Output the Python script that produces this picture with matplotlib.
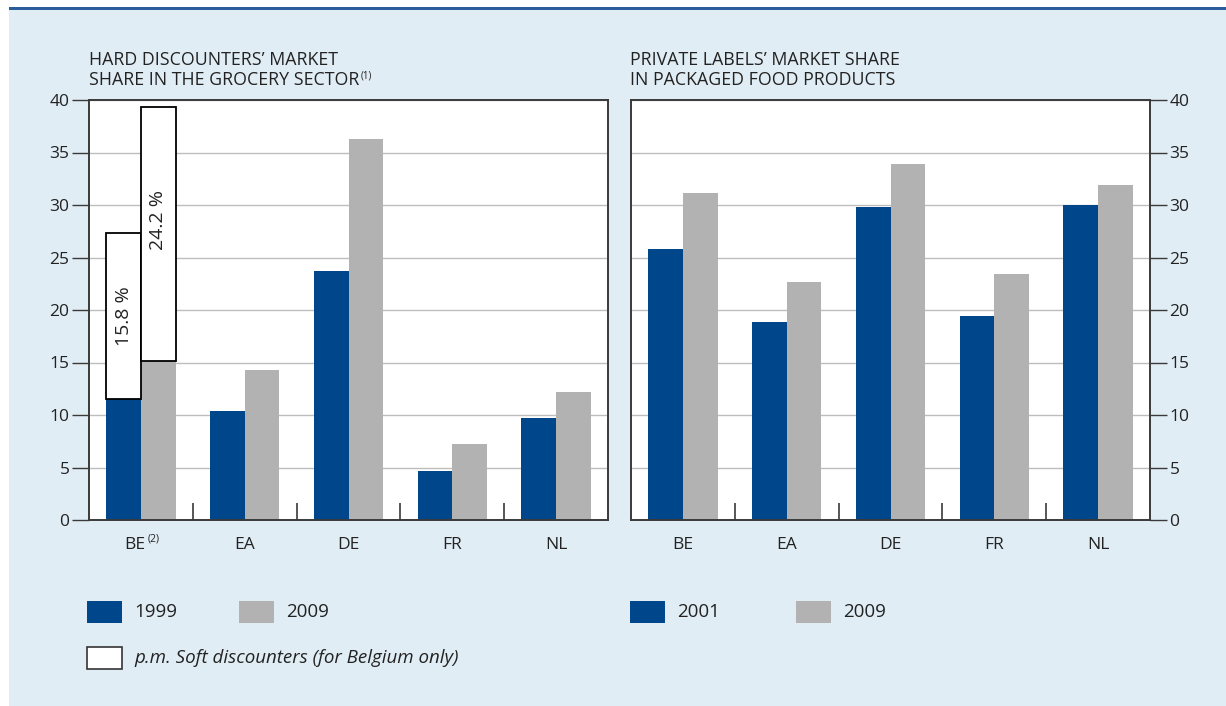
import matplotlib.pyplot as plt
import numpy as np
from matplotlib.patches import Rectangle
from matplotlib.transforms import blended_transform_factory

plt.rcParams["font.family"] = ["Open Sans", "DejaVu Sans"]

# hard discounters (left panel)
hd_countries = ["BE", "EA", "DE", "FR", "NL"]
hd_1999 = [11.5, 10.4, 23.7, 4.7, 9.7]
hd_2009 = [15.1, 14.3, 36.3, 7.2, 12.2]
soft_be = [15.8, 24.2]  # Belgian soft discounters, 1999 and 2009

# private labels (right panel)
pl_countries = ["BE", "EA", "DE", "FR", "NL"]
pl_2001 = [25.8, 18.9, 29.8, 19.4, 30.0]
pl_2009 = [31.1, 22.7, 33.9, 23.4, 31.9]

BLUE = "#00468a"
GREY = "#b2b2b2"
BG = "#e1edf5"
INK = "#222222"
SPINE = "#3a3a3a"
W, H = 1226, 706
FS = 12.5

fig = plt.figure(figsize=(W / 100, H / 100), dpi=100)
fig.patch.set_facecolor("white")
fig.patches.append(Rectangle((9 / W, 0), 1, 1 - 8 / H, transform=fig.transFigure,
                             facecolor=BG, edgecolor="none", zorder=-10))
fig.patches.append(Rectangle((9 / W, 1 - 9.5 / H), 1, 2.5 / H, transform=fig.transFigure,
                             facecolor="#2b5c9c", edgecolor="none", zorder=-9))

ax1 = fig.add_axes([89 / W, 186 / H, 519 / W, 420 / H])
ax2 = fig.add_axes([631 / W, 186 / H, 519 / W, 420 / H])

width = 0.334


def style_axes(ax, right=False):
    ax.set_xlim(0, 5)
    ax.set_ylim(0, 40)
    ax.set_facecolor("white")
    ax.set_yticks(np.arange(0, 41, 5))
    ax.grid(axis="y", color="#bdbdbd", linewidth=1.0, zorder=0)
    ax.set_axisbelow(True)
    for sp in ax.spines.values():
        sp.set_color(SPINE)
        sp.set_linewidth(1.4)
    ax.set_xticks([1, 2, 3, 4])
    ax.tick_params(axis="x", direction="in", length=12, width=1.2,
                   color=SPINE, labelbottom=False)
    ax.tick_params(axis="y", direction="out", length=12, width=1.0,
                   color=SPINE, labelsize=FS, labelcolor=INK, pad=2)
    if right:
        ax.yaxis.tick_right()


def category_labels(ax, names):
    trans = blended_transform_factory(ax.transData, ax.transAxes)
    for i, name in enumerate(names):
        ax.text(i + 0.5, -0.06, name, transform=trans, ha="center", va="center",
                fontsize=FS, color=INK)


style_axes(ax1)
style_axes(ax2, right=True)

x = np.arange(5) + 0.5

# left panel bars
ax1.bar(x - width / 2, hd_1999, width, color=BLUE, zorder=2)
ax1.bar(x + width / 2, hd_2009, width, color=GREY, zorder=2)
soft_x = [x[0] - width / 2, x[0] + width / 2]
soft_base = [hd_1999[0], hd_2009[0]]
ax1.bar(soft_x, soft_be, width, bottom=soft_base, facecolor="white",
        edgecolor="black", linewidth=1.3, zorder=3)
for xi, base, val, frac in zip(soft_x, soft_base, soft_be, [0.5, 0.555]):
    ax1.text(xi, base + val * frac, f"{val:.1f} %", rotation=90, ha="center",
             va="center", fontsize=14, color=INK, zorder=4)

category_labels(ax1, ["", *hd_countries[1:]])
trans1 = blended_transform_factory(ax1.transData, ax1.transAxes)
ax1.text(x[0] + 0.04, -0.06, hd_countries[0], transform=trans1, ha="right",
         va="center", fontsize=FS, color=INK)
ax1.text(x[0] + 0.065, -0.045, "(2)", transform=trans1, ha="left",
         va="center", fontsize=7.5, color=INK)

# right panel bars
ax2.bar(x - width / 2, pl_2001, width, color=BLUE, zorder=2)
ax2.bar(x + width / 2, pl_2009, width, color=GREY, zorder=2)
category_labels(ax2, pl_countries)

# titles
fig.text(89 / W, 1 - 70 / H, "HARD DISCOUNTERS\u2019 MARKET\nSHARE IN THE GROCERY SECTOR",
         ha="left", va="center", fontsize=12.75, color=INK, linespacing=1.1)
fig.text(361 / W, 1 - 76 / H, "(1)", ha="left", va="center", fontsize=7, color=INK)
fig.text(630 / W, 1 - 70 / H, "PRIVATE LABELS\u2019 MARKET SHARE\nIN PACKAGED FOOD PRODUCTS",
         ha="left", va="center", fontsize=12.75, color=INK, linespacing=1.1)


# legends
def legend_box(x0, y0, face, label, italic=False, edge=None):
    fig.patches.append(Rectangle((x0 / W, 1 - (y0 + 22) / H), 35 / W, 22 / H,
                                 transform=fig.transFigure, facecolor=face,
                                 edgecolor=edge or "none", linewidth=1.2))
    fig.text((x0 + 47) / W, 1 - (y0 + 11) / H, label, ha="left", va="center",
             fontsize=13.5, color=INK, style="italic" if italic else "normal")


legend_box(87, 601, BLUE, "1999")
legend_box(239, 601, GREY, "2009")
legend_box(87, 647, "white", "p.m. Soft discounters (for Belgium only)",
           italic=True, edge="#333333")
legend_box(630, 601, BLUE, "2001")
legend_box(796, 601, GREY, "2009")

fig.savefig("out.png", dpi=100, facecolor=fig.get_facecolor())
